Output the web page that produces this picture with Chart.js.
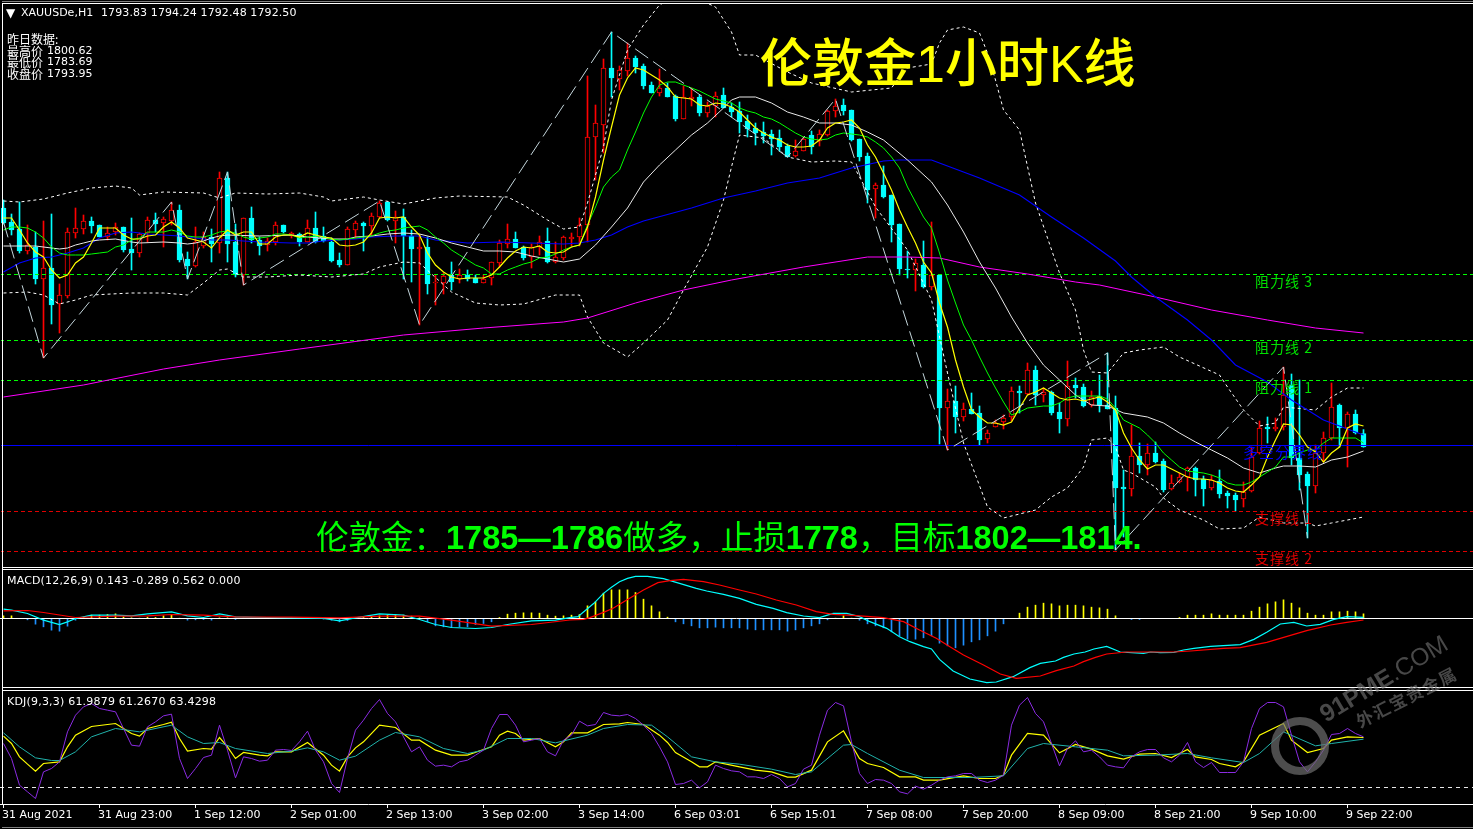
<!DOCTYPE html>
<html>
<head>
<meta charset="utf-8">
<title>XAUUSD H1</title>
<script src="https://cdn.jsdelivr.net/npm/chart.js"></script>
<style>
html, body { margin: 0; padding: 0; background: #000; overflow: hidden; }
body { width: 1473px; height: 829px; position: relative; font-family: "DejaVu Sans", "Noto Sans CJK SC", sans-serif; }
canvas { position: absolute; left: 0; }
#mainChart { top: 4px; clip-path: inset(0 0 0 1px); }
#macdChart { top: 570px; }
#kdjChart { top: 691px; }
.rule { position: absolute; left: 2px; right: 0; height: 1px; background: #fff; }
.txt { position: absolute; white-space: nowrap; color: #fff; font-size: 11px; line-height: 12px; }
.cjk { font-family: "Noto Sans CJK SC", sans-serif; font-size: 12px; }
.level { font-family: "Noto Sans CJK SC", sans-serif; font-size: 14px; line-height: 16px; letter-spacing: 1px; }
#title { left: 760px; top: 27px; color: #ffff00; font-family: "Liberation Sans", "Noto Sans CJK SC", sans-serif; font-size: 52px; line-height: 74px; font-weight: 500; }
#plan { left: 316px; top: 518px; color: #00ff00; font-family: "Liberation Sans", "Noto Sans CJK SC", sans-serif; font-size: 32.5px; line-height: 40px; }
#mark { left: 1322px; top: 699px; color: rgba(120,120,120,0.6); font-family: "Liberation Sans", sans-serif; font-size: 24.5px; line-height: 34px; transform: rotate(-31deg); transform-origin: left center; }
#markCn { left: 1357px; top: 712px; color: rgba(120,120,120,0.6); font-family: "Noto Sans CJK SC", sans-serif; font-size: 17px; line-height: 20px; letter-spacing: 1.5px; font-weight: 700; transform: rotate(-27deg); transform-origin: left center; }
#ring { position: absolute; left: 1271px; top: 717px; width: 42px; height: 42px; border: 8px solid rgba(110,110,110,0.7); border-radius: 50%; }
</style>
</head>
<body>
<canvas id="mainChart" width="1473" height="563"></canvas>
<canvas id="macdChart" width="1473" height="118"></canvas>
<canvas id="kdjChart" width="1473" height="138"></canvas>

<div class="rule" style="top:1px;background:#808080"></div>
<div class="rule" style="top:3px"></div>
<div class="rule" style="top:567px"></div>
<div class="rule" style="top:569px"></div>
<div class="rule" style="top:687px"></div>
<div class="rule" style="top:690px"></div>
<div class="rule" style="top:827px;background:#808080"></div>
<div style="position:absolute;left:2px;top:3px;width:1px;height:802px;background:#fff"></div>

<div class="txt" style="left:6px;top:7px;font-size:12px">▼</div>
<div class="txt" style="left:21px;top:7px">XAUUSDe,H1</div>
<div class="txt" style="left:101px;top:7px;letter-spacing:0.1px">1793.83 1794.24 1792.48 1792.50</div>
<div class="txt cjk" style="left:7px;top:33px">昨日数据:</div>
<div class="txt cjk" style="left:7px;top:45px">最高价</div><div class="txt" style="left:47px;top:45px">1800.62</div>
<div class="txt cjk" style="left:7px;top:56px">最低价</div><div class="txt" style="left:47px;top:56px">1783.69</div>
<div class="txt cjk" style="left:7px;top:68px">收盘价</div><div class="txt" style="left:47px;top:68px">1793.95</div>

<div class="txt" id="title">伦敦金1小时K线</div>
<div class="txt" id="plan">伦敦金：<b>1785—1786</b>做多，止损<b>1778</b>，目标<b>1802—1814.</b></div>

<div class="txt level" style="left:1255px;top:273px;color:#00e000">阻力线 3</div>
<div class="txt level" style="left:1255px;top:339px;color:#00e000">阻力线 2</div>
<div class="txt level" style="left:1255px;top:379px;color:#00e000">阻力线 1</div>
<div class="txt level" style="left:1243px;top:444px;color:#0000ff;font-size:15px">多空分界线</div>
<div class="txt level" style="left:1255px;top:510px;color:#e00000">支撑线 1</div>
<div class="txt level" style="left:1255px;top:550px;color:#e00000">支撑线 2</div>

<div class="txt" style="left:7px;top:575px;letter-spacing:0.16px">MACD(12,26,9) 0.143 -0.289 0.562 0.000</div>
<div class="txt" style="left:7px;top:696px;letter-spacing:0.2px">KDJ(9,3,3) 61.9879 61.2670 63.4298</div>

<div id="ring"></div>
<div class="txt" id="mark"><b>91PME</b>.COM</div>
<div class="txt" id="markCn">外汇宝贵金属</div>

<script>
const barCount = 171;

const opens = [1816.4,1815.0,1814.3,1812.1,1812.5,1809.3,1810.4,1806.8,1807.6,1813.9,
1814.3,1815.1,1814.7,1813.5,1814.0,1814.5,1812.3,1811.9,1813.9,1815.2,
1814.9,1815.1,1816.2,1811.3,1810.6,1812.6,1813.5,1812.9,1819.4,1813.0,
1809.7,1815.4,1813.2,1812.7,1813.0,1814.7,1813.6,1813.8,1813.0,1814.4,
1813.6,1813.0,1811.2,1810.7,1814.2,1814.9,1814.6,1815.5,1817.0,1815.1,
1815.5,1813.6,1812.3,1812.5,1808.9,1808.9,1809.7,1809.3,1809.7,1809.4,
1808.9,1809.4,1810.9,1812.8,1813.3,1812.5,1811.5,1812.5,1813.1,1811.0,
1811.4,1813.3,1813.5,1814.7,1823.5,1824.7,1830.4,1829.3,1830.1,1831.4,
1830.6,1828.7,1827.9,1828.4,1827.6,1825.3,1827.3,1827.5,1825.9,1826.6,
1827.7,1826.5,1826.1,1825.1,1824.4,1824.0,1823.8,1823.4,1822.6,1821.6,
1822.1,1823.7,1823.1,1823.7,1826.1,1826.7,1826.2,1823.3,1821.6,1818.3,
1818.7,1817.7,1814.8,1810.3,1810.2,1810.7,1808.5,1809.7,1796.4,1797.1,
1795.5,1796.3,1795.9,1793.3,1794.5,1795.0,1795.5,1798.1,1797.8,1800.2,
1797.7,1798.0,1796.0,1795.3,1798.7,1798.5,1796.7,1797.6,1796.7,1796.4,
1788.5,1788.3,1791.6,1790.7,1791.9,1791.1,1788.3,1789.0,1789.5,1790.4,
1789.3,1788.4,1789.1,1787.9,1787.7,1787.3,1788.1,1791.9,1794.5,1794.3,
1794.5,1798.7,1791.4,1789.8,1788.6,1791.9,1793.4,1796.7,1794.4,1795.8,1793.83];

const closes = [1814.9,1814.2,1812.1,1812.7,1809.3,1810.4,1806.7,1807.7,1814.0,1814.4,
1815.1,1814.6,1813.5,1813.9,1814.5,1812.2,1811.9,1813.8,1815.2,1814.8,
1815.3,1816.2,1811.2,1810.6,1813.0,1813.5,1812.8,1819.4,1812.8,1809.7,
1815.4,1813.2,1812.6,1813.1,1814.7,1814.0,1813.9,1813.0,1814.4,1813.0,
1813.1,1811.1,1810.7,1814.3,1814.9,1814.6,1815.6,1816.9,1815.2,1815.5,
1813.6,1812.3,1812.5,1808.8,1809.0,1809.6,1809.0,1809.7,1809.3,1808.9,
1809.3,1811.0,1812.9,1813.3,1812.4,1811.4,1812.5,1813.0,1811.0,1811.5,
1813.5,1813.5,1814.7,1823.5,1824.9,1830.4,1829.4,1830.2,1831.4,1830.5,
1828.6,1827.9,1828.4,1827.5,1825.3,1827.5,1827.5,1825.9,1826.6,1827.6,
1826.4,1826.0,1825.0,1824.3,1823.9,1823.6,1823.3,1822.5,1821.5,1822.1,
1823.3,1822.5,1823.8,1826.1,1826.6,1826.1,1823.2,1821.5,1818.2,1818.7,
1817.5,1814.7,1810.3,1810.2,1810.9,1808.5,1809.7,1796.4,1797.1,1795.5,
1796.3,1795.8,1793.2,1793.9,1794.9,1795.4,1798.1,1797.9,1800.2,1797.7,
1798.0,1795.9,1795.3,1798.6,1798.4,1796.6,1797.5,1796.7,1796.3,1788.4,
1788.3,1791.6,1790.7,1791.9,1791.0,1788.2,1788.9,1789.5,1790.4,1789.2,
1788.3,1789.2,1787.8,1787.6,1787.2,1788.0,1791.5,1794.4,1794.3,1794.5,
1797.7,1791.4,1789.7,1788.6,1791.9,1793.4,1796.5,1794.4,1795.8,1793.9,1792.50];

const highs = [1817.2,1815.8,1817.0,1814.7,1814.0,1815.1,1815.8,1808.8,1814.4,1816.4,
1815.7,1815.5,1814.7,1814.5,1814.9,1814.5,1815.4,1813.9,1815.5,1815.9,
1815.5,1817.0,1816.7,1812.0,1814.5,1814.0,1814.3,1820.0,1820.0,1814.8,
1815.4,1816.5,1813.5,1813.4,1815.0,1814.7,1814.0,1813.9,1815.2,1816.0,
1814.5,1813.4,1811.9,1814.5,1815.1,1815.0,1815.9,1817.1,1817.0,1816.1,
1816.3,1814.2,1813.7,1813.5,1809.7,1809.9,1811.0,1810.3,1810.2,1809.7,
1809.7,1811.0,1813.2,1814.8,1814.0,1812.6,1812.8,1813.6,1814.4,1813.0,
1813.6,1813.9,1815.4,1829.6,1826.7,1831.3,1834.0,1830.6,1832.9,1831.6,
1830.8,1829.0,1830.3,1828.9,1827.7,1828.6,1828.4,1827.7,1827.0,1828.0,
1828.4,1826.9,1827.0,1825.7,1824.9,1825.0,1824.2,1824.2,1822.8,1823.2,
1823.5,1824.1,1824.2,1826.2,1827.3,1827.3,1826.2,1823.3,1821.9,1818.9,
1820.6,1817.7,1814.8,1812.1,1811.3,1813.1,1815.0,1809.7,1798.3,1798.6,
1796.9,1797.9,1796.6,1794.2,1795.2,1795.7,1798.5,1798.6,1800.9,1800.6,
1798.4,1798.1,1796.9,1801.1,1799.4,1798.8,1798.1,1799.7,1801.9,1797.6,
1790.2,1794.7,1792.9,1792.8,1793.0,1791.3,1789.7,1789.9,1790.5,1790.5,
1789.6,1789.7,1790.2,1788.1,1787.9,1789.0,1792.5,1795.1,1795.5,1795.4,
1800.5,1799.8,1799.2,1790.0,1792.7,1794.0,1798.9,1796.8,1796.0,1796.2,1794.24];

const lows = [1814.8,1813.7,1811.9,1811.8,1808.8,1801.4,1804.8,1803.9,1807.4,1813.4,
1813.8,1813.9,1813.5,1813.2,1813.7,1812.0,1810.2,1811.5,1813.0,1814.0,
1812.5,1814.7,1811.0,1809.3,1810.5,1812.4,1811.0,1811.9,1811.0,1809.5,
1808.7,1812.9,1811.7,1812.1,1812.7,1813.9,1813.4,1812.6,1813.0,1812.9,
1813.0,1811.0,1810.5,1810.7,1813.4,1812.1,1813.7,1815.4,1815.1,1812.9,
1809.3,1809.0,1804.7,1807.8,1806.7,1807.8,1808.2,1808.9,1809.1,1808.9,
1808.9,1808.7,1810.5,1812.4,1812.4,1811.2,1810.4,1811.7,1810.9,1810.9,
1811.2,1812.6,1812.6,1813.0,1819.2,1821.9,1827.5,1828.2,1829.6,1829.9,
1828.3,1827.9,1827.6,1827.5,1825.1,1825.3,1826.6,1825.6,1825.5,1825.5,
1826.4,1825.5,1823.9,1823.5,1822.7,1822.9,1821.7,1822.1,1821.5,1821.5,
1822.1,1821.8,1822.6,1823.6,1825.5,1825.7,1823.1,1821.1,1816.9,1815.4,
1817.4,1813.0,1809.7,1809.4,1808.1,1808.4,1808.2,1792.8,1792.2,1793.9,
1795.1,1795.8,1792.7,1792.9,1794.5,1794.3,1795.1,1795.9,1797.7,1796.7,
1797.0,1795.7,1793.9,1794.6,1797.4,1796.5,1796.5,1796.0,1796.3,1782.2,
1783.5,1787.6,1789.9,1789.7,1790.9,1788.0,1788.2,1788.9,1788.1,1787.6,
1786.6,1788.2,1787.4,1786.4,1786.1,1786.5,1788.0,1791.8,1792.9,1794.1,
1794.2,1790.7,1788.2,1783.4,1787.9,1791.0,1793.2,1792.5,1790.5,1793.8,1792.48];

const yellowMa = [1815.4,1815.4,1814.2,1812.9,1812.0,1811.5,1810.2,1809.4,1809.7,1810.9,
1811.5,1812.9,1814.4,1814.4,1814.4,1813.7,1813.3,1813.3,1813.6,1813.7,
1814.5,1815.0,1814.4,1813.4,1813.2,1813.0,1812.4,1813.4,1814.2,1813.7,
1814.0,1814.0,1812.8,1812.8,1813.5,1813.7,1813.7,1813.5,1813.9,1813.7,
1813.5,1813.4,1812.7,1812.6,1812.7,1813.0,1813.9,1815.4,1815.5,1815.4,
1815.5,1814.5,1813.7,1811.9,1810.7,1810.0,1809.5,1809.3,1809.4,1809.4,
1809.4,1809.7,1810.5,1811.4,1812.1,1812.5,1812.4,1812.6,1812.0,1811.9,
1812.0,1812.5,1812.7,1814.5,1817.5,1821.2,1824.5,1827.7,1829.4,1830.4,
1830.2,1829.7,1829.2,1828.5,1827.5,1827.4,1827.3,1826.7,1826.6,1826.9,
1826.8,1826.5,1826.0,1825.2,1824.4,1823.9,1823.5,1823.2,1822.7,1822.5,
1822.5,1822.6,1823.2,1824.4,1824.9,1825.0,1825.2,1824.4,1822.7,1821.5,
1819.9,1818.2,1816.2,1814.5,1812.9,1811.0,1809.9,1806.9,1804.5,1801.2,
1798.5,1796.2,1795.5,1794.9,1794.9,1794.7,1795.0,1796.4,1797.7,1798.0,
1798.4,1797.9,1797.4,1797.2,1797.3,1797.1,1797.3,1797.5,1797.0,1796.2,
1793.9,1792.4,1791.2,1790.3,1790.7,1790.7,1790.3,1789.9,1789.5,1789.3,
1789.3,1789.2,1788.9,1788.4,1788.1,1788.0,1788.7,1789.5,1791.5,1793.2,
1794.8,1794.7,1793.7,1792.5,1792.0,1791.0,1791.9,1792.5,1794.4,1794.8,1794.6];

const greenMa = [1814.2,1814.5,1814.5,1814.4,1814.0,1813.4,1812.5,1811.9,1811.7,1811.7,
1811.7,1811.8,1811.9,1812.0,1812.5,1812.7,1813.2,1813.4,1814.0,1814.0,
1814.0,1814.2,1814.0,1813.6,1813.5,1813.5,1813.7,1814.0,1814.1,1813.9,
1813.5,1813.3,1813.4,1813.5,1813.8,1813.8,1813.7,1813.4,1813.5,1813.6,
1813.5,1813.3,1813.2,1813.3,1813.4,1813.5,1813.6,1813.9,1814.1,1814.2,
1814.4,1814.5,1814.6,1814.2,1813.5,1812.9,1812.2,1811.7,1811.2,1810.7,
1810.4,1809.8,1809.8,1810.2,1810.5,1810.8,1811.0,1811.4,1811.5,1811.8,
1812.2,1812.5,1812.7,1814.7,1816.5,1818.5,1819.5,1820.2,1822.2,1824.0,
1825.9,1827.5,1828.7,1829.0,1829.0,1828.7,1828.4,1828.1,1827.7,1827.3,
1827.1,1826.9,1826.4,1826.1,1825.9,1825.5,1825.3,1824.9,1824.4,1823.9,
1823.5,1823.3,1823.2,1823.3,1823.7,1823.9,1823.8,1823.7,1823.5,1823.0,
1822.4,1821.5,1820.4,1818.5,1817.0,1815.5,1814.4,1811.9,1809.2,1806.9,
1804.7,1803.2,1801.5,1799.9,1798.4,1797.0,1795.7,1796.0,1796.4,1796.5,
1796.6,1796.6,1796.9,1797.4,1797.6,1797.6,1797.6,1797.6,1797.3,1796.4,
1795.2,1794.8,1794.4,1793.7,1792.9,1791.9,1791.2,1790.5,1790.1,1790.0,
1789.9,1789.7,1789.4,1788.9,1788.7,1788.7,1789.0,1789.5,1790.0,1790.5,
1791.5,1791.5,1791.9,1792.2,1792.2,1792.9,1793.4,1793.4,1793.4,1793.4,1792.9];

// [bar, value] reads taken where each line bends
const whiteMa = [[0,1812.6],[4,1812.6],[6,1812.4],[7,1812.3],[8,1812.4],[9,1812.7],[10,1812.9],[11,1813.1],[12,1813.2],[14,1813.3],[16,1813.0],[17,1812.9],[20,1813.0],[22,1812.9],[23,1812.8],[24,1812.9],[25,1813.1],[26,1813.4],[27,1813.6],[28,1813.7],[32,1813.6],[36,1813.7],[38,1813.5],[41,1813.3],[43,1813.3],[44,1813.5],[46,1813.6],[48,1813.8],[50,1813.9],[52,1813.8],[54,1813.4],[56,1812.9],[58,1812.5],[60,1812.1],[62,1812.1],[64,1812.0],[66,1811.6],[68,1811.3],[70,1811.0],[72,1811.3],[74,1812.7],[76,1814.5],[78,1816.4],[80,1819.0],[82,1820.7],[84,1822.2],[86,1823.7],[88,1824.9],[90,1826.4],[91,1827.2],[92,1827.5],[94,1827.5],[96,1826.9],[98,1826.0],[100,1825.5],[102,1824.9],[104,1824.9],[106,1824.7],[108,1824.0],[110,1823.2],[113,1821.2],[116,1819.0],[118,1816.7],[120,1814.0],[122,1811.0],[124,1808.4],[126,1805.5],[128,1802.9],[130,1800.7],[132,1799.2],[134,1797.7],[136,1796.7],[138,1796.6],[140,1795.9],[143,1795.5],[145,1794.9],[147,1793.9],[149,1793.0],[151,1792.2],[153,1791.4],[155,1790.4],[157,1789.9],[159,1790.4],[160,1790.6],[162,1790.6],[164,1790.5],[166,1791.2],[168,1791.5],[170,1792.1]];

const blueMa = [[0,1810.0],[2,1810.9],[4,1811.4],[6,1811.5],[8,1811.9],[10,1812.4],[12,1813.4],[14,1813.9],[16,1814.0],[18,1813.8],[20,1813.7],[22,1813.6],[24,1813.4],[26,1813.2],[28,1813.2],[30,1813.1],[32,1813.0],[36,1812.9],[38,1812.9],[40,1813.1],[42,1813.2],[44,1813.3],[46,1813.5],[49,1813.6],[52,1813.6],[54,1813.2],[58,1812.9],[62,1813.0],[66,1812.9],[70,1812.8],[72,1812.9],[74,1813.2],[76,1813.7],[78,1814.5],[80,1815.1],[86,1816.4],[90,1817.4],[94,1818.1],[98,1818.9],[102,1819.4],[106,1820.4],[110,1821.1],[112,1821.2],[116,1821.2],[122,1819.4],[127,1817.7],[131,1815.5],[135,1813.4],[139,1811.1],[141,1809.5],[144,1807.5],[148,1805.2],[151,1803.2],[154,1800.7],[158,1799.0],[161,1797.2],[165,1795.2],[170,1793.7]];

const magentaMa = [[0,1797.5],[10,1798.7],[20,1800.3],[27,1801.2],[37,1802.3],[50,1803.7],[60,1804.4],[70,1805.0],[73,1805.4],[79,1806.9],[85,1808.2],[91,1809.2],[100,1810.5],[108,1811.5],[113,1811.5],[117,1811.4],[122,1810.5],[128,1809.8],[134,1809.0],[137,1808.7],[144,1807.5],[151,1806.2],[158,1805.2],[164,1804.4],[170,1803.9]];

const bandUpper = [[0,1817.1],[2,1817.0],[5,1817.3],[8,1817.9],[11,1818.4],[14,1818.6],[16,1818.4],[17,1817.7],[20,1818.0],[25,1817.9],[27,1817.4],[29,1817.9],[33,1817.8],[37,1817.9],[40,1817.5],[41,1817.1],[45,1817.5],[47,1817.2],[50,1816.8],[54,1817.4],[57,1817.6],[63,1817.5],[65,1816.7],[68,1815.2],[70,1814.3],[72,1814.5],[73,1816.9],[75,1822.5],[76,1827.2],[78,1832.2],[80,1834.7],[82,1836.7],[85,1838.0],[89,1836.5],[91,1834.0],[92,1831.7],[94,1831.7],[98,1830.0],[101,1828.9],[106,1828.0],[111,1828.4],[112,1829.5],[113,1830.4],[116,1830.8],[117,1832.9],[118,1834.2],[120,1834.5],[122,1833.9],[123,1831.9],[124,1829.2],[125,1826.2],[127,1824.2],[129,1816.9],[132,1809.9],[134,1806.2],[135,1802.2],[136,1800.0],[138,1799.9],[140,1801.9],[142,1802.2],[145,1802.5],[147,1801.5],[152,1799.7],[153,1798.5],[155,1796.2],[157,1794.6],[159,1794.9],[160,1796.5],[164,1796.2],[166,1797.5],[168,1798.4],[170,1798.4]];

const bandLower = [[0,1807.9],[3,1808.0],[5,1807.7],[7,1806.8],[9,1807.2],[11,1807.7],[16,1807.9],[20,1807.9],[23,1807.7],[25,1808.9],[27,1810.2],[28,1810.3],[30,1809.5],[33,1809.5],[37,1809.7],[41,1809.5],[45,1809.8],[47,1810.5],[50,1811.0],[52,1810.9],[56,1808.0],[59,1806.9],[62,1806.7],[65,1806.8],[69,1807.7],[72,1807.7],[73,1805.5],[75,1802.9],[78,1801.5],[80,1802.9],[83,1805.2],[85,1808.2],[88,1812.5],[90,1817.2],[91,1820.5],[92,1823.7],[95,1823.4],[98,1821.5],[101,1821.0],[104,1821.1],[106,1821.0],[109,1816.5],[113,1812.2],[116,1807.2],[118,1799.9],[120,1792.9],[123,1786.5],[125,1785.4],[129,1786.2],[131,1787.5],[133,1788.4],[135,1790.5],[136,1793.2],[138,1793.4],[139,1792.5],[140,1790.2],[141,1789.9],[144,1788.5],[145,1787.4],[147,1786.2],[150,1785.2],[152,1784.3],[155,1784.4],[157,1785.5],[160,1784.9],[163,1784.9],[164,1784.6],[166,1784.9],[170,1785.5]];

const zigzag = [[0,1815.0],[5,1801.4],[21,1817.0],[23,1809.3],[28,1820.0],[30,1808.7],[47,1817.1],[52,1804.7],[76,1834.0],[98,1821.5],[104,1827.3],[118,1792.2],[138,1801.9],[139,1782.2],[160,1800.5],[163,1783.4]];

const resistanceLevels = [1809.75, 1803.15, 1799.15];
const pivotLevel = 1792.65;
const supportLevels = [1786.05, 1782.05];

const macdLine = [[0,1.4],[1,1.25],[3,0.75],[5,-0.25],[7,-0.9],[8,-0.5],[9,0],[11,0.5],[14,0.5],[16,0.4],[18,0.7],[21,1.0],[23,0.4],[25,0.15],[27,0.7],[29,0.25],[33,0.15],[36,0.1],[40,0],[42,-0.35],[44,0.1],[47,0.7],[50,0.5],[52,-0.15],[54,-0.9],[56,-1.35],[59,-1.5],[61,-1.35],[63,-0.9],[66,-0.35],[69,-0.25],
[70.8,0.125],[71.8,0.275],[72.8,1.275],[73.8,2.275],[75,3.775],[76,4.675],[77,5.525],[78,6.025],[79,6.325],[80.5,6.325],[82.5,5.975],[84.5,5.275],[86.6,4.525],[87.9,4.125],[90,3.625],[92,3.025],[94.1,2.125],[96.2,1.525],[97.9,0.875],[100,0.375],[102,0.125],[103.7,0.775],[105.4,0.775],[107,0.275],[108.3,-0.475],[110.4,-1.475],[112,-2.725],[113.3,-3.475],[115,-4.225],[116,-4.575],[117,-6.125],[118.7,-7.875],[120.8,-9.075],[122.9,-9.625],[124.1,-9.525],[126.2,-8.725],[128.3,-7.375],[129.6,-6.725],[131.5,-6.375],[132.5,-5.825],[133.8,-5.325],[135.2,-5.025],[136.3,-4.575],[137.9,-4.175],[139.6,-5.025],[142.5,-5.225],[143.4,-5.025],[144.6,-5.125],[146.3,-5.075],[147.5,-4.725],[148.8,-4.475],[150.9,-4.175],[154.6,-3.925],[156.3,-3.125],[157.9,-2.075],[159.6,-0.825],[161.3,-0.575],[162.9,-1.125],[164.6,-0.875],[166.3,-0.125],[167.9,0.275],[170,0.175]];

const macdSignal = [[0,1.15],[3,1.2],[5,0.9],[9,0.15],[14,0.35],[18,0.4],[21,0.6],[25,0.5],[29,0.25],[36,0.2],[42,0.1],[47,0.35],[52,0.35],[56,-0.25],[61,-1.15],[66,-0.9],
[70.8,-0.225],[72.5,-0.125],[73.3,0.125],[75,0.925],[76.2,1.525],[77.9,2.775],[80,4.275],[81.8,5.375],[83.3,5.675],[85,5.875],[87.5,5.525],[89.5,5.025],[92,4.275],[94.1,3.675],[96.6,2.775],[99.1,2.025],[101.6,1.025],[103.7,0.625],[106.2,0.475],[110,0.125],[112.5,-0.475],[114.5,-1.725],[116.6,-2.975],[118.3,-4.225],[120,-5.475],[122.5,-6.975],[124.6,-8.325],[126.6,-8.975],[129.6,-8.625],[131.6,-7.825],[133.8,-7.125],[135,-6.475],[136.5,-5.825],[137.9,-5.325],[140.4,-5.025],[146.3,-5.025],[148.4,-4.875],[152.5,-4.475],[154.6,-4.375],[157.9,-3.575],[161.3,-2.375],[162.9,-1.825],[165.9,-0.975],[167.9,-0.575],[170,-0.225]];

const macdHist = [0.4,0.4,0,-0.2,-0.85,-1.25,-1.75,-1.9,-1.15,-0.25,
0.2,0.5,0.5,0.6,0.7,0.25,0.1,0.05,0.2,0.15,
0.4,0.5,0.05,-0.25,-0.2,-0.15,-0.25,0.1,0.1,-0.15,
0.05,0.05,0.05,0.05,0.05,0.05,0.05,0.05,0.05,0.05,
-0.1,-0.25,-0.5,-0.3,0.05,0.2,0.35,0.4,0.5,0.55,
0.5,0.35,0.1,-0.5,-1.1,-1.25,-1.35,-1.25,-1.25,-0.9,
-0.75,-0.5,0.15,0.65,0.8,0.85,0.85,0.8,0.5,0.35,
0.4,0.5,0.6,1.9,2.5,3.8,4.3,4.3,4.3,3.9,
2.9,1.9,1.0,0.2,-0.5,-0.8,-1.1,-1.4,-1.4,-1.3,
-1.4,-1.4,-1.4,-1.6,-1.7,-1.7,-1.7,-1.7,-1.9,-1.7,
-1.4,-1.1,-0.8,-0.2,0.05,0.4,0.05,-0.25,-0.8,-1.1,
-1.4,-2.0,-2.6,-3.1,-3.1,-2.9,-2.6,-3.7,-4.1,-4.4,
-4.0,-3.5,-3.2,-2.6,-1.9,-0.8,0,0.8,1.7,2.0,
2.3,2.2,1.9,2.0,2.0,1.9,1.7,1.6,1.4,0.4,
0,-0.15,-0.15,0,0,0,0,0.15,0.5,0.5,
0.5,0.7,0.5,0.5,0.5,0.5,1.1,1.7,2.2,2.5,
2.8,2.3,1.6,0.8,0.5,0.5,1.0,1.0,1.1,1.0,0.7];

const jLine = [52.8,34.8,2.8,-5.2,-13.2,18.8,22.8,30.8,66.8,86.8,
96.8,100.8,94.8,92.8,90.8,70.8,50.8,49.6,72.8,78.8,
86,88,34.8,10.8,22.8,36,38.8,74.8,44.8,11.6,
36.8,34.8,31.6,32.8,44.8,45.6,44.4,54.8,67.6,44.8,
30.8,4.8,-6,34.8,68.8,80.8,94.8,105.6,88.8,78.8,
60.8,42.8,48.8,32.8,25.6,26.8,24.8,30.8,32.8,38.8,
44.8,70.8,87.6,87.6,74.8,54.8,56.8,58.8,42.8,38,
56.8,62.8,79.6,74,75.6,90,86.8,86,87.6,82.8,
74.8,64.8,48.8,30.8,3.6,4.8,8.8,-0.4,6.8,26.8,
22.8,20,18.8,12.8,12.8,10.8,15.6,10.8,0.8,4.8,
22,26.8,62.8,92.8,102,98,54.8,16.8,4.8,9.6,
8.8,4.8,-5.2,-7.6,1.6,-2,2.8,8.8,12.8,14,
16.8,16.8,8.8,6,8.8,14.8,74.8,98.8,108,88.8,
78.8,52.8,26,46.8,56,42.8,44.8,36.8,26.8,24.8,
23.6,36.8,42.8,45.6,45.6,35.6,30.8,38.8,54,30.8,
24,30,18,18,18,30.8,70.8,94.8,102,102,
96.8,62.8,30.8,18.8,30.8,44.8,63.6,64.8,70.8,64.8,60.8];

const kLine = [[0,61.6],[1,52.8],[2,36.8],[3,28],[4,19.6],[5,28.8],[7,30.8],[8,48.8],[9,62.8],[11,73.2],[13,75.6],[14,76.8],[15,70.8],[16,64.8],[17,61.6],[18,70.8],[20,75.6],[21,78.4],[22,58.8],[23,43.6],[25,46.8],[26,46],[27,60],[28,48.8],[29,34.8],[30,42],[32,38.8],[33,38],[34,42.8],[36,42.8],[38,54],[40,38.8],[41,26.8],[42,19.6],[43,36.8],[44,47.6],[45,54.8],[47,74.8],[49,72],[51,56.8],[52,56.8],[54,44.8],[56,38.8],[58,38.8],[60,45.6],[61,48.8],[62,62.8],[63,67.6],[64,64.8],[65,56.8],[67,58.8],[69,48.8],[70,54.8],[71,65.6],[73,65.6],[75,75.6],[77,76.4],[78,78],[80,75.6],[82,62.8],[83,54],[84,42],[86,30.8],[87,24.8],[88,24.8],[89,30.8],[92,24.8],[94,20.8],[96,18.8],[98,12.4],[99,12.4],[101,20.8],[103,54.8],[105,68],[107,34.8],[108,28.8],[110,24],[112,12.8],[114,12.8],[115,8.8],[117,8.8],[120,14],[122,10.8],[124,10.8],[125,14.8],[126,38.8],[128,64.8],[130,62.8],[132,41.6],[134,51.6],[136,46],[138,38],[140,34],[142,40],[144,40.8],[146,36],[148,45.6],[149,36.8],[151,33.6],[152,28.8],[154,24.8],[155,30.8],[157,62.8],[160,76.8],[161,56.8],[163,42],[165,46.8],[166,56.8],[168,60.8],[170,60]];

const dLine = [[0,65.6],[2,48.8],[4,35.6],[6,32.4],[7,32.4],[9,42.8],[11,60.8],[14,70.8],[17,66.8],[21,74.8],[23,60.8],[25,52.8],[27,54],[29,46.8],[33,40.8],[36,43.6],[38,47.6],[40,42.8],[42,32.8],[44,37.6],[47,56.8],[49,66],[52,60.8],[55,46.8],[58,40.8],[60,44.8],[63,58.8],[66,58.8],[69,53.6],[73,62.8],[75,70.8],[78,75.6],[81,74.8],[83,60.8],[86,36.8],[89,30.8],[92,28],[96,22],[99,15.6],[101,18.8],[105,50.8],[106,51.6],[108,40.8],[112,20.8],[115,12],[121,12],[125,14],[128,46.8],[130,52.8],[134,48.8],[138,44.8],[140,38],[144,38.8],[148,40.8],[151,35.6],[155,30],[157,40.8],[160,66.8],[164,50],[166,52.8],[170,58]];

const tickBars = [0,12,24,36,48,60,72,84,96,108,120,132,144,156,168];
const tickLabels = ["31 Aug 2021","31 Aug 23:00","1 Sep 12:00","2 Sep 01:00","2 Sep 13:00","3 Sep 02:00","3 Sep 14:00","6 Sep 03:01","6 Sep 15:01","7 Sep 08:00","7 Sep 20:00","8 Sep 09:00","8 Sep 21:00","9 Sep 10:00","9 Sep 22:00"];

// x range so that one bar is 8px wide over the 1473px page
const xMin = -0.4375;
const xMax = 183.6875;

function fromPairs(list) {
    return list.map(p => ({ x: p[0], y: p[1] }));
}

function fromSeries(list) {
    return list.map((y, x) => ({ x, y }));
}

function line(data, color, width, dash) {
    return {
        type: "line",
        data,
        borderColor: color,
        borderWidth: width || 1,
        borderDash: dash || [],
        pointRadius: 0,
        tension: 0,
        fill: false
    };
}

function level(value, color, dash) {
    return line([{ x: xMin, y: value }, { x: xMax, y: value }], color, 1, dash);
}

function baseOptions(yMin, yMax) {
    return {
        responsive: false,
        animation: false,
        devicePixelRatio: 1,
        layout: { padding: 0 },
        plugins: { legend: { display: false }, tooltip: { enabled: false } },
        scales: {
            x: { type: "linear", min: xMin, max: xMax, offset: false, display: false },
            y: { min: yMin, max: yMax, display: false }
        }
    };
}

let upColor = "#ff0000";
let downColor = "#00ffff";
let candleBars = opens.map((o, i) => ({ x: i, y: [o, closes[i]] }));
let wickBars = opens.map((o, i) => ({ x: i, y: [lows[i], highs[i]] }));
let candleColors = opens.map((o, i) => closes[i] > o ? upColor : downColor);

// the first datasets are painted last, so candles sit at the end of the list
new Chart(document.getElementById("mainChart"), {
    type: "bar",
    data: {
        datasets: [
            line(fromPairs(zigzag), "#c4d6dc", 1, [16, 6]),
            line(fromSeries(yellowMa), "#ffff00", 1.2),
            line(fromSeries(greenMa), "#00ff00", 1),
            line(fromPairs(whiteMa), "#e8e8e8", 1),
            line(fromPairs(blueMa), "#0000ff", 1.2),
            line(fromPairs(magentaMa), "#ff00ff", 1),
            line(fromPairs(bandUpper), "#ffffff", 1, [3, 3]),
            line(fromPairs(bandLower), "#ffffff", 1, [3, 3]),
            ...resistanceLevels.map(v => level(v, "#00ff00", [4, 3])),
            level(pivotLevel, "#0000ff"),
            ...supportLevels.map(v => level(v, "#e00000", [4, 3])),
            {
                data: candleBars,
                grouped: false,
                barThickness: 5,
                minBarLength: 1,
                backgroundColor: candleColors.map(c => c === upColor ? "#000000" : c),
                borderColor: candleColors,
                borderWidth: 1,
                borderSkipped: false
            },
            {
                data: wickBars,
                grouped: false,
                barThickness: 1,
                backgroundColor: candleColors,
                borderWidth: 0
            }
        ]
    },
    options: baseOptions(1780.5, 1836.8)
});

new Chart(document.getElementById("macdChart"), {
    type: "bar",
    data: {
        datasets: [
            line(fromPairs(macdSignal), "#ff0000", 1.2),
            line(fromPairs(macdLine), "#00ffff", 1.2),
            level(0, "#ffffff"),
            {
                data: fromSeries(macdHist),
                grouped: false,
                barThickness: 1,
                backgroundColor: macdHist.map(v => v >= 0 ? "#ffff00" : "#1e90ff")
            }
        ]
    },
    options: baseOptions(-10.425, 7.275)
});

let kdjOptions = baseOptions(-19.8, 115.8);
kdjOptions.scales.x = {
    type: "linear",
    min: xMin,
    max: xMax,
    offset: false,
    border: { color: "#ffffff" },
    grid: { drawOnChartArea: false, color: "#ffffff", tickLength: 4, tickColor: "#ffffff" },
    afterBuildTicks: axis => { axis.ticks = tickBars.map(v => ({ value: v })); },
    afterFit: axis => { axis.height = 25; axis.paddingLeft = 0; axis.paddingRight = 0; },
    ticks: {
        autoSkip: false,
        maxRotation: 0,
        align: "start",
        labelOffset: -1.5,
        padding: 1,
        color: "#ffffff",
        font: { family: "DejaVu Sans", size: 11 },
        callback: value => tickLabels[tickBars.indexOf(value)]
    }
};

new Chart(document.getElementById("kdjChart"), {
    type: "line",
    data: {
        datasets: [
            line(fromSeries(jLine), "#8a2be2", 1),
            line(fromPairs(dLine), "#20b2aa", 1),
            line(fromPairs(kLine), "#ffff00", 1.2),
            level(0, "#e8e8e8", [4, 4])
        ]
    },
    options: kdjOptions
});
</script>
</body>
</html>
